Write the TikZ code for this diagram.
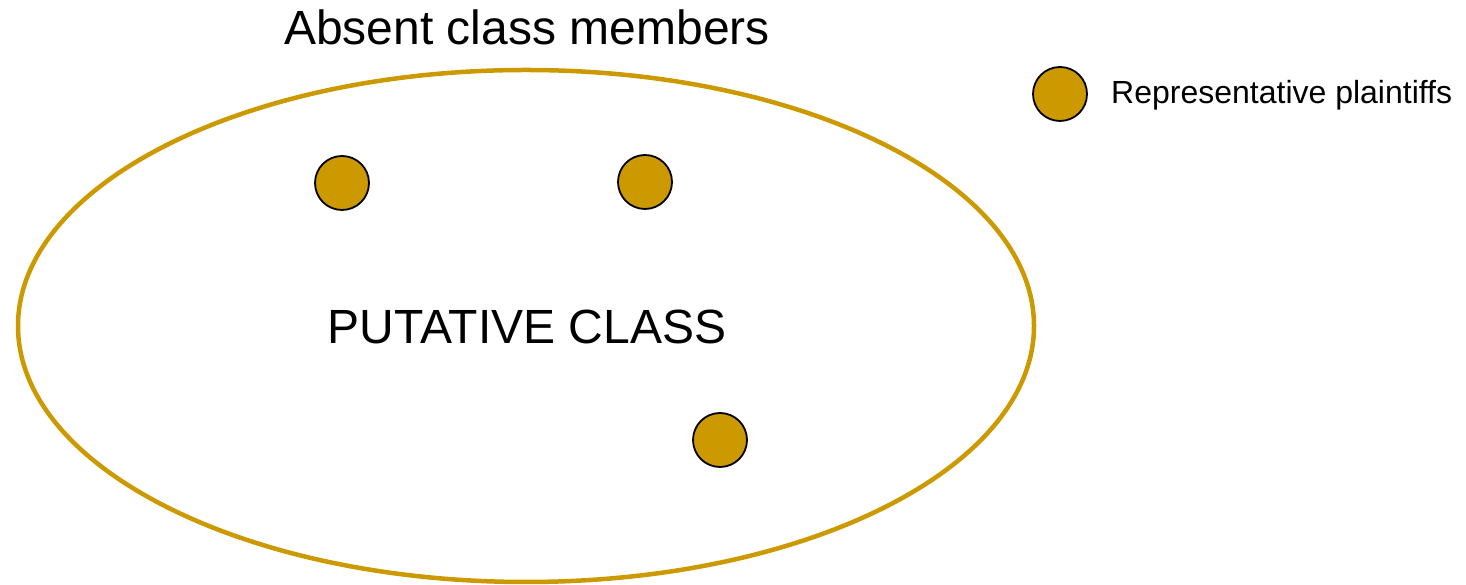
\documentclass[tikz,border=0pt]{standalone}
\usepackage{fontspec}
\setmainfont{Liberation Sans}
\usetikzlibrary{shapes.geometric}
\definecolor{gold}{HTML}{CC9900}
\begin{document}
\begin{tikzpicture}[x=1pt,y=1pt,
  member/.style={circle,draw=black,line width=1.8pt,fill=gold,minimum size=54pt,inner sep=0pt},
  bigtext/.style={font=\fontsize{48}{58}\selectfont,inner sep=0pt},
  legtext/.style={font=\fontsize{32}{38}\selectfont,inner sep=0pt}]
\useasboundingbox (0,0) rectangle (1466,585);
\node[ellipse,draw=gold,line width=4.5pt,minimum width=1016pt,minimum height=512pt,inner sep=0pt] (class) at (526,259) {};
\node[bigtext,anchor=base] (absent) at (527,540) {Absent class members};
\node[bigtext,anchor=base] (putative) at (527,241) {PUTATIVE CLASS};
\node[member] (p1) at (342,402) {};
\node[member] (p2) at (645,403) {};
\node[member] (p3) at (720,145) {};
\node[member] (leg) at (1060,491) {};
\node[legtext,anchor=base west] (legt) at (1111,481) {Representative plaintiffs};
\end{tikzpicture}
\end{document}
